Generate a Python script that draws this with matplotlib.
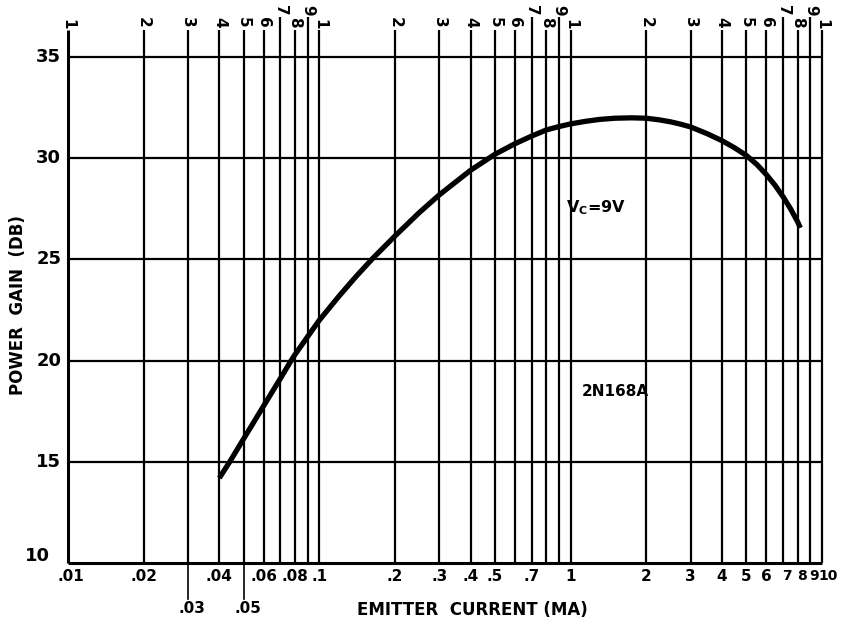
import matplotlib.pyplot as plt
from matplotlib.transforms import offset_copy

# Power gain vs emitter current, 2N168A at Vc = 9 V
current_ma = [0.04, 0.044, 0.05, 0.06, 0.07, 0.0772, 0.08, 0.09, 0.1, 0.12, 0.14,
              0.163, 0.2, 0.25, 0.3, 0.4, 0.5, 0.6, 0.7, 0.8, 0.9, 1.0, 1.15, 1.3,
              1.5, 1.75, 2.0, 2.25, 2.5, 2.75, 3.0, 3.5, 4.0, 4.5, 5.0, 5.5, 6.0,
              6.5, 7.0, 7.5, 8.0, 8.2]
gain_db = [14.2, 15.0, 16.14, 17.76, 19.12, 20.0, 20.3, 21.2, 22.0, 23.2, 24.16,
           25.05, 26.16, 27.32, 28.19, 29.41, 30.2, 30.72, 31.1, 31.4, 31.57, 31.7,
           31.83, 31.92, 31.98, 32.0, 31.98, 31.9, 31.8, 31.68, 31.55, 31.21, 30.87,
           30.51, 30.14, 29.7, 29.2, 28.67, 28.1, 27.5, 26.86, 26.56]

gain_ticks = [10, 15, 20, 25, 30, 35]
top_digits = ['1', '2', '3', '4', '5', '6', '7', '8', '9']
bottom_ticks = [0.01, 0.02, 0.03, 0.04, 0.05, 0.06, 0.08, 0.1, 0.2, 0.3, 0.4, 0.5,
                0.7, 1, 2, 3, 4, 5, 6, 7, 8, 9, 10]
bottom_labels = ['.01', '.02', '.03', '.04', '.05', '.06', '.08', '.1', '.2', '.3', '.4',
                 '.5', '.7', '1', '2', '3', '4', '5', '6', '7', '8', '9', '10']
low_labels = ['.03', '.05']
# small sideways nudges (points) for the crowded labels at the right end
nudge = {'.01': 2, '7': 3, '8': 3, '9': 2.5, '10': 4.5}

YMIN, YMAX = 10, 36.34
ink = 'black'
lw_grid = 1.6
plt.rcParams['font.family'] = 'DejaVu Sans'

fig = plt.figure(figsize=(8.43, 6.24), dpi=100)
ax = fig.add_axes([68 / 843, 1 - 563 / 624, (822 - 68) / 843, (563 - 30) / 624])
ax.set_xscale('log')
ax.set_xlim(0.01, 10)
ax.set_ylim(YMIN, YMAX)
for s in ax.spines.values():
    s.set_visible(False)
ax.set_xticks([])
ax.set_yticks([])
ax.minorticks_off()
ax.tick_params(which='both', length=0)

# horizontal rules and gain labels
for g in gain_ticks:
    ax.plot([0.01, 10], [g, g], color=ink, lw=lw_grid if g > 10 else 2.2,
            clip_on=False, solid_capstyle='butt')
    if g > 10:
        ax.text(0.0094, g, str(g), ha='right', va='center', fontsize=13,
                fontweight='bold', color=ink)
    else:
        ax.text(0.0085, g + 0.35, str(g), ha='right', va='center', fontsize=13,
                fontweight='bold', color=ink)

# vertical rules with the sideways cycle digits along the top
for d in [0.01, 0.1, 1]:
    for k in range(1, 10):
        x = d * k
        top = YMAX
        label_y = 36.73
        if k == 7 or k == 9:
            top = 37.0
            label_y = 37.33
        elif k == 1:
            label_y = 36.6
        ax.plot([x, x], [YMIN, top], color=ink,
                lw=2.2 if (k == 1 and d == 0.01) else lw_grid,
                clip_on=False, solid_capstyle='butt')
        ax.text(x, label_y, top_digits[k - 1], rotation=-90, ha='center',
                va='center', fontsize=11, fontweight='bold', color=ink)
ax.plot([10, 10], [YMIN, YMAX], color=ink, lw=lw_grid, clip_on=False,
        solid_capstyle='butt')
ax.text(10, 36.6, '1', rotation=-90, ha='center', va='center',
        fontsize=11, fontweight='bold', color=ink)

# bottom scale labels
for x, lab in zip(bottom_ticks, bottom_labels):
    tr = offset_copy(ax.transData, fig=fig, x=nudge.get(lab, 0), y=0, units='points')
    if lab in low_labels:
        ax.plot([x, x], [YMIN, 8.2], color=ink, lw=1.2, clip_on=False)
        ax.text(x, 7.75, lab, ha='center', va='center', fontsize=11,
                fontweight='bold', color=ink, transform=offset_copy(
                    ax.transData, fig=fig, x=3, y=0, units='points'))
    else:
        size = 10 if lab in ('7', '8', '9', '10') else 11
        ax.text(x, 9.35, lab, ha='center', va='center', fontsize=size,
                fontweight='bold', color=ink, transform=tr)

# the curve
ax.plot(current_ma, gain_db, color=ink, lw=3.8, solid_capstyle='butt',
        solid_joinstyle='round')

ax.text(1.66, 27.57, r'$\mathbf{V_C}$=9V', ha='right', va='center',
        fontsize=11.5, fontweight='bold', color=ink)
ax.text(1.5, 18.47, '2N168A', ha='center', va='center', fontsize=11,
        fontweight='bold', color=ink)

fig.text(18 / 843, 1 - 305 / 624, 'POWER  GAIN  (DB)', rotation=90, ha='center',
         va='center', fontsize=12, fontweight='bold', color=ink)
fig.text(472 / 843, 1 - 610 / 624, 'EMITTER  CURRENT (MA)', ha='center',
         va='center', fontsize=12, fontweight='bold', color=ink)

fig.savefig('out.png', dpi=100, facecolor='white')
